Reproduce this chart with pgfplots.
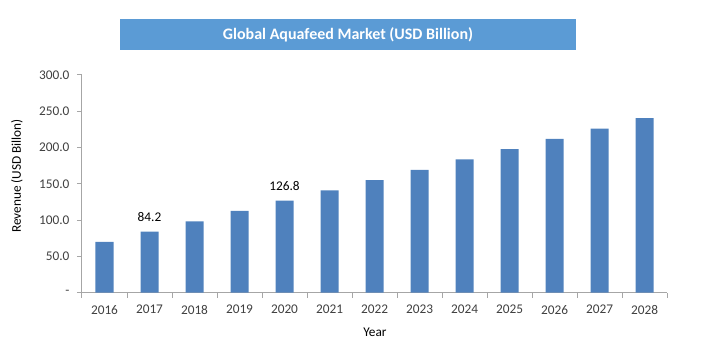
\documentclass[border=0pt]{standalone}
\usepackage{pgfplots}
\pgfplotsset{compat=1.18}
\usepackage{fontspec}
\setmainfont{Carlito}
\definecolor{barblue}{HTML}{4F81BD}
\definecolor{titleblue}{HTML}{5B9BD5}
\definecolor{axisgray}{HTML}{A6A6A6}
\definecolor{ticktext}{HTML}{404040}
\begin{document}
\begin{tikzpicture}[x=1pt,y=1pt]
\path[use as bounding box] (-82,-70.3) rectangle (640,292.7);
\begin{axis}[
  at={(0,0)}, anchor=south west,
  scale only axis, width=585pt, height=217.7pt,
  xmin=-0.5, xmax=12.5, ymin=0, ymax=300,
  axis x line*=bottom, axis y line*=left,
  axis line style={axisgray, line width=1pt},
  x axis line style={-}, y axis line style={-},
  xtick={0,...,12},
  xticklabels={2016,2017,2018,2019,2020,2021,2022,2023,2024,2025,2026,2027,2028},
  minor xtick={-0.5,0.5,...,12.5},
  major x tick style={draw=none},
  minor x tick style={axisgray, line width=1pt},
  minor tick length=5pt,
  ytick={0,50,...,300},
  yticklabels={-,50.0,100.0,150.0,200.0,250.0,300.0},
  y tick style={axisgray, line width=1pt},
  major tick length=5pt,
  tick align=outside,
  /pgf/number format/assume math mode=true,
  ticklabel style={font=\fontsize{13.3}{15}\selectfont, text=ticktext},
  xticklabel style={yshift=-4pt},
  yticklabel style={xshift=-4pt},
  ybar, bar width=18pt,
  clip=false,
]
\addplot[fill=barblue, draw=none, bar shift=0pt] coordinates {
 (0,70.0) (1,84.2) (2,98.4) (3,112.6) (4,126.8) (5,141.0) (6,155.2)
 (7,169.4) (8,183.6) (9,197.8) (10,212.0) (11,226.2) (12,240.4)};
\addplot[draw=none, fill=none, bar shift=0pt,
  nodes near coords={\pgfmathprintnumber[fixed,fixed zerofill,precision=1]{\pgfplotspointmeta}},
  every node near coord/.append style={font=\fontsize{13.3}{15}\selectfont, text=black, inner sep=0pt, anchor=south, yshift=9.4pt}]
  coordinates {(1,84.2) (4,126.8)};
\end{axis}
\node[fill=titleblue, minimum width=456pt, minimum height=31pt, inner sep=0pt,
  text=white, font=\fontsize{16}{18}\selectfont\bfseries] at (266,258.2) {Global Aquafeed Market (USD Billion)};
\node[rotate=90, font=\fontsize{13.3}{15}\selectfont] at (-65,116.7) {Revenue (USD Billon)};
\node[font=\fontsize{13.3}{15}\selectfont] at (293,-39.3) {Year};
\end{tikzpicture}
\end{document}
